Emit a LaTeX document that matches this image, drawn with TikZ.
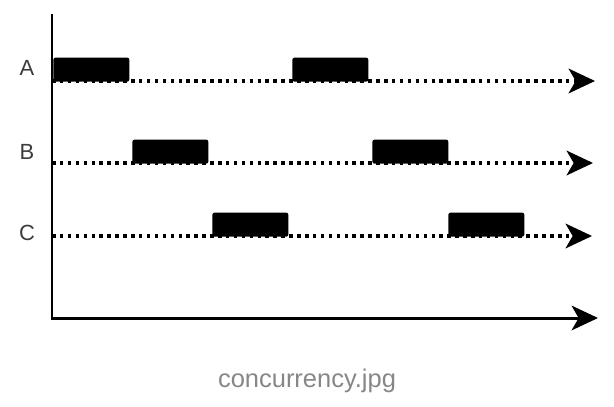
\documentclass[tikz,border=0pt]{standalone}
\usepackage{fontspec}
\setmainfont{Liberation Sans}
\definecolor{LabelGray}{RGB}{60, 60, 60}
\definecolor{CaptionGray}{RGB}{135, 135, 135}
\usetikzlibrary{arrows.meta, positioning}

\begin{document}
\begin{tikzpicture}[x=0.02cm, y=-0.02cm, >={Stealth[length=15pt, width=14pt, inset=4pt]},
    every node/.style={font=\fontsize{12.5}{14}\selectfont},
    axis/.style={line width=1.7pt},
    timeline/.style={line width=2pt, dash pattern=on 2pt off 2.5pt},
    task/.style={fill=black, rounded corners=1.2pt, minimum width=1.52cm, minimum height=0.48cm, inner sep=0pt, anchor=south west},
    lbl/.style={text=LabelGray}]
    \useasboundingbox (0,0) rectangle (614,406);
    % axes
    \coordinate (ytop) at (52,14);
    \coordinate (origin) at (52,318);
    \coordinate (xend) at (598,318);
    \draw[axis, ->] (ytop) -- (origin) -- (xend);
    % timelines
    \coordinate (A0) at (52,81);
    \coordinate (A1) at (595,81);
    \coordinate (B0) at (52,163);
    \coordinate (B1) at (593,163);
    \coordinate (C0) at (52,236);
    \coordinate (C1) at (592,236);
    \draw[timeline, ->] (A0) -- (A1);
    \draw[timeline, ->] (B0) -- (B1);
    \draw[timeline, ->] (C0) -- (C1);
    % tasks
    \node[task] (a1) at (53,82) {};
    \node[task] (a2) at (292,82) {};
    \node[task] (b1) at (132,164) {};
    \node[task] (b2) at (372,164) {};
    \node[task] (c1) at (212,237) {};
    \node[task] (c2) at (448,237) {};
    % labels
    \node[lbl] (la) at (27,68) {A};
    \node[lbl] (lb) at (27,152) {B};
    \node[lbl] (lc) at (27,233) {C};
    \node[text=CaptionGray, font=\fontsize{14.5}{16}\selectfont] (caption) at (307,381) {concurrency.jpg};
\end{tikzpicture}
\end{document}
